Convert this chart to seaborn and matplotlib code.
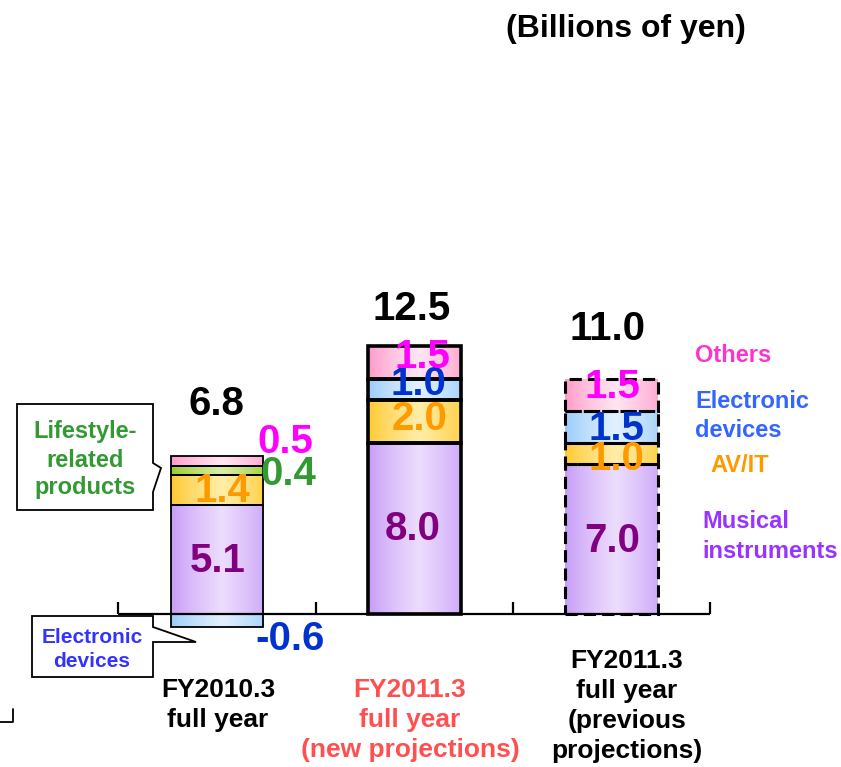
import numpy as np
import pandas as pd
import matplotlib
matplotlib.use("Agg")
import matplotlib.pyplot as plt
from matplotlib.colors import to_rgb
from matplotlib.patches import Polygon
from matplotlib.lines import Line2D
import seaborn as sns

# ---------------- data ----------------
categories = ["FY2010.3 full year", "FY2011.3 new projections", "FY2011.3 previous projections"]
musical = [5.1, 8.0, 7.0]
av_it = [1.4, 2.0, 1.0]
electronic = [-0.6, 1.0, 1.5]
lifestyle = [0.4, 0.0, 0.0]
others = [0.5, 1.5, 1.5]
totals = [6.8, 12.5, 11.0]
cat_lines = [["FY2010.3", "full year"],
             ["FY2011.3", "full year", "(new projections)"],
             ["FY2011.3", "full year", "(previous", "projections)"]]

W, H = 841, 767
sns.set_theme(style="white")
plt.rcParams['font.family'] = ['Liberation Sans', 'DejaVu Sans']
plt.rcParams['font.weight'] = 'bold'

fig = plt.figure(figsize=(W / 100, H / 100), dpi=100)
ax = fig.add_axes([0, 0, 1, 1])

series = [
    ("Musical instruments", musical, "#C79BF7", "#ECDDFD"),
    ("AV/IT", av_it, "#FFC92E", "#FFEDA8"),
    ("Electronic devices", electronic, "#99CCFA", "#E3F1FF"),
    ("Lifestyle-related products", lifestyle, "#99CC22", "#D9EDA6"),
    ("Others", others, "#FF99C8", "#FFE6F2"),
]

bar_lw = [1.3, 2.6, 2.2]
bar_ls = ["solid", "solid", (0, (4, 2))]

pos_base = np.zeros(3)
neg_base = np.zeros(3)
for name, vals, c_edge, c_mid in series:
    vals = np.array(vals, dtype=float)
    bottom = np.where(vals >= 0, pos_base, neg_base)
    df = pd.DataFrame({"cat": categories, "val": vals})
    n0 = len(ax.patches)
    sns.barplot(data=df, x="cat", y="val", order=categories, bottom=bottom,
                width=0.47, color=c_edge, errorbar=None, ax=ax)
    new = ax.patches[n0:]
    e = np.array(to_rgb(c_edge))
    m = np.array(to_rgb(c_mid))
    t = np.linspace(0, 1, 64)
    # darker at edges, light towards the middle
    f = np.clip(1 - np.abs(t - 0.55) / 0.55, 0, 1) ** 0.8
    grad = e[None, :] * (1 - f[:, None]) + m[None, :] * f[:, None]
    img = grad[None, :, :]
    for i, p in enumerate(new):
        h = p.get_height()
        if abs(h) < 1e-9:
            p.set_visible(False)
            continue
        x0, y0 = p.get_xy()
        w = p.get_width()
        ylo, yhi = min(y0, y0 + h), max(y0, y0 + h)
        im = ax.imshow(img, extent=(x0, x0 + w, ylo, yhi), aspect="auto",
                       interpolation="bilinear", zorder=2)
        im.set_clip_path(p)
        p.set_facecolor("none")
        p.set_edgecolor("black")
        p.set_linewidth(bar_lw[i])
        p.set_linestyle(bar_ls[i])
        p.set_zorder(3)
    pos_base = pos_base + np.where(vals > 0, vals, 0)
    neg_base = neg_base + np.where(vals < 0, vals, 0)

# axis line with upward ticks between categories
ax.plot([-0.5, 2.5], [0, 0], color="black", lw=1.6, zorder=2.5, solid_capstyle="butt")
ax.vlines([-0.5, 0.5, 1.5, 2.5], 0, 0.55, color="black", lw=1.6, zorder=2.5)

ax.set_xlim(-217 / 197.3, (W - 217) / 197.3)
ax.set_ylim(-(H - 614) / 21.4, 614 / 21.4)
ax.axis("off")


def T(x, y, s, size, color="black", ha="center"):
    fig.text(x / W, 1 - y / H, s, fontsize=size, color=color, ha=ha,
             va="baseline", fontweight="bold")


NUM = 29
# title
T(506, 37, "(Billions of yen)", 23, ha="left")

# totals
for xx, yy, v in zip([216, 412, 607], [415, 320, 340], totals):
    T(xx, yy, f"{v:.1f}", NUM)

# bar 1 labels
T(218, 572, f"{musical[0]:.1f}", NUM, "#800080")
T(222, 502, f"{av_it[0]:.1f}", NUM, "#FF9900")
T(288, 485, f"{lifestyle[0]:.1f}", NUM, "#339933")
T(285, 453, f"{others[0]:.1f}", NUM, "#FF00FF")
T(290, 650, f"{electronic[0]:.1f}", NUM, "#0033CC")
# bar 2 labels
T(413, 540, f"{musical[1]:.1f}", NUM, "#800080")
T(420, 430, f"{av_it[1]:.1f}", NUM, "#FF9900")
T(418, 395, f"{electronic[1]:.1f}", NUM, "#0033CC")
T(422, 368, f"{others[1]:.1f}", NUM, "#FF00FF")
# bar 3 labels
T(612, 552, f"{musical[2]:.1f}", NUM, "#800080")
T(616, 470, f"{av_it[2]:.1f}", NUM, "#FF9900")
T(616, 440, f"{electronic[2]:.1f}", NUM, "#0033CC")
T(612, 398, f"{others[2]:.1f}", NUM, "#FF00FF")

# right-hand legend texts
LEG = 17
T(695, 362, "Others", LEG, "#FF33CC", ha="left")
T(695, 408, "Electronic", LEG, "#3366FF", ha="left")
T(695, 437, "devices", LEG, "#3366FF", ha="left")
T(710, 472, "AV/IT", LEG, "#FF9900", ha="left")
T(702, 528, "Musical", LEG, "#9933FF", ha="left")
T(702, 558, "instruments", LEG, "#9933FF", ha="left")

# category labels
cat_x = [218, 410, 627]
cat_y0 = [697, 697, 668]
cat_col = ["black", "#FF5050", "black"]
for cx, cy, col, lines in zip(cat_x, cat_y0, cat_col, cat_lines):
    for k, ln in enumerate(lines):
        T(cx, cy + 30 * k, ln, 19, col)


def fig_poly(pts, **kw):
    arr = np.array([[x / W, 1 - y / H] for x, y in pts])
    poly = Polygon(arr, closed=True, transform=fig.transFigure, **kw)
    fig.add_artist(poly)


# callouts
fig_poly([(17, 404), (153, 404), (153, 463), (161, 468), (153, 492), (153, 510), (17, 510)],
         facecolor="white", edgecolor="black", lw=1.3)
T(85, 438, "Lifestyle-", 17, "#339933")
T(85, 467, "related", 17, "#339933")
T(85, 494, "products", 17, "#339933")

fig_poly([(32, 616), (153, 616), (153, 627), (196, 642), (153, 642), (153, 677), (32, 677)],
         facecolor="white", edgecolor="black", lw=1.3)
T(92, 643, "Electronic", 15, "#3333FF")
T(92, 667, "devices", 15, "#3333FF")

# small corner mark at bottom-left
fig.add_artist(Line2D([0 / W, 13 / W, 13 / W], [1 - 722 / H, 1 - 722 / H, 1 - 709 / H],
                      transform=fig.transFigure, color="black", lw=1.3))

fig.savefig("out.png", dpi=100)
